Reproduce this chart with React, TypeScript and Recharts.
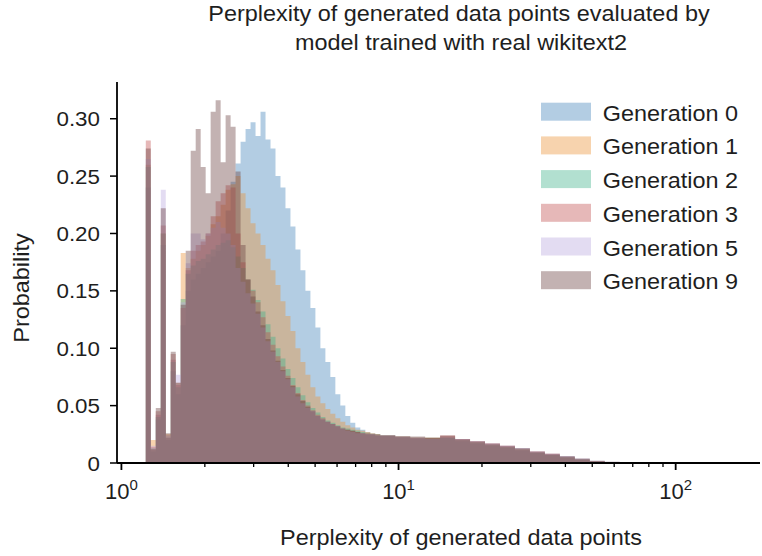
import { Area, ComposedChart, XAxis, YAxis } from "recharts";

// histogram bin left edges, in log10(perplexity); last entry closes the final bin
const binEdgesLog = [
  0.088, 0.106, 0.124, 0.142, 0.16, 0.178, 0.196, 0.214, 0.232, 0.25,
  0.268, 0.286, 0.304, 0.322, 0.34, 0.358, 0.376, 0.394, 0.412, 0.43,
  0.448, 0.466, 0.484, 0.502, 0.52, 0.538, 0.556, 0.574, 0.592, 0.61,
  0.628, 0.646, 0.664, 0.682, 0.7, 0.718, 0.736, 0.754, 0.772, 0.79,
  0.808, 0.826, 0.844, 0.862, 0.88, 0.898, 0.916,
  0.934, 0.988, 1.042, 1.096, 1.15, 1.204, 1.258, 1.312, 1.366, 1.42,
  1.474, 1.528, 1.582, 1.636, 1.69, 1.744, 1.798, 1.852,
];

const gen0 = [
  0.24, 0.01, 0.038, 0.19, 0.02, 0.08, 0.06, 0.12, 0.15, 0.16, 0.165, 0.17, 0.175, 0.18, 0.185, 0.2, 0.22,
  0.245, 0.261, 0.28, 0.291, 0.297, 0.285, 0.306, 0.282, 0.274, 0.25, 0.24, 0.222, 0.206, 0.186,
  0.168, 0.15, 0.135, 0.118, 0.1, 0.088, 0.075, 0.06, 0.05, 0.041, 0.035, 0.031, 0.029, 0.027, 0.026, 0.025,
  0.024, 0.022, 0.021, 0.021, 0.022, 0.019, 0.017, 0.015, 0.013, 0.011, 0.009, 0.007, 0.005, 0.003, 0.0015, 0.0007, 0.0003,
];
const gen1 = [
  0.26, 0.02, 0.045, 0.2, 0.025, 0.095, 0.07, 0.183, 0.17, 0.178, 0.185, 0.19, 0.198, 0.208, 0.215, 0.225, 0.238,
  0.243, 0.25, 0.235, 0.222, 0.209, 0.2, 0.19, 0.178, 0.168, 0.155, 0.141, 0.128, 0.115, 0.1,
  0.088, 0.077, 0.066, 0.058, 0.052, 0.047, 0.043, 0.039, 0.036, 0.033, 0.031, 0.029, 0.028, 0.027, 0.026, 0.025,
  0.024, 0.023, 0.022, 0.022, 0.023, 0.02, 0.018, 0.016, 0.014, 0.012, 0.009, 0.007, 0.005, 0.003, 0.0015, 0.0007, 0.0003,
];
const gen2 = [
  0.258, 0.013, 0.04, 0.2, 0.022, 0.088, 0.066, 0.143, 0.165, 0.172, 0.176, 0.178, 0.182, 0.186, 0.19, 0.192, 0.194,
  0.188, 0.18, 0.17, 0.16, 0.151, 0.142, 0.132, 0.121, 0.11, 0.1, 0.091, 0.082, 0.074, 0.066,
  0.059, 0.053, 0.048, 0.044, 0.04, 0.037, 0.035, 0.033, 0.031, 0.03, 0.029, 0.028, 0.027, 0.026, 0.025, 0.025,
  0.024, 0.023, 0.022, 0.022, 0.022, 0.02, 0.018, 0.016, 0.014, 0.012, 0.009, 0.007, 0.005, 0.003, 0.0015, 0.0007, 0.0003,
];
const gen3 = [
  0.281, 0.014, 0.042, 0.207, 0.022, 0.09, 0.068, 0.135, 0.168, 0.185, 0.19, 0.193, 0.2, 0.215, 0.228, 0.235, 0.242,
  0.24, 0.2, 0.175, 0.16, 0.15, 0.14, 0.127, 0.114, 0.103, 0.093, 0.084, 0.076, 0.068, 0.061,
  0.055, 0.05, 0.046, 0.042, 0.039, 0.036, 0.034, 0.032, 0.03, 0.029, 0.028, 0.027, 0.026, 0.026, 0.025, 0.025,
  0.024, 0.023, 0.022, 0.022, 0.024, 0.021, 0.019, 0.017, 0.015, 0.012, 0.01, 0.008, 0.005, 0.003, 0.0015, 0.0007, 0.0003,
];
const gen5 = [
  0.265, 0.015, 0.045, 0.238, 0.024, 0.095, 0.077, 0.14, 0.174, 0.2, 0.2, 0.195, 0.2, 0.205, 0.21, 0.205, 0.2,
  0.19, 0.17, 0.158, 0.148, 0.139, 0.13, 0.118, 0.106, 0.097, 0.088, 0.08, 0.073, 0.066, 0.058,
  0.052, 0.048, 0.045, 0.041, 0.038, 0.036, 0.034, 0.032, 0.03, 0.028, 0.027, 0.026, 0.026, 0.025, 0.025, 0.024,
  0.024, 0.023, 0.022, 0.021, 0.023, 0.021, 0.019, 0.017, 0.015, 0.013, 0.01, 0.008, 0.006, 0.004, 0.002, 0.001, 0.0004,
];
const gen9 = [
  0.274, 0.012, 0.048, 0.222, 0.026, 0.097, 0.07, 0.138, 0.185, 0.272, 0.291, 0.258, 0.235, 0.306, 0.316, 0.262, 0.303,
  0.293, 0.254, 0.19, 0.16, 0.145, 0.132, 0.12, 0.108, 0.098, 0.089, 0.081, 0.074, 0.067, 0.06,
  0.054, 0.049, 0.045, 0.041, 0.038, 0.036, 0.034, 0.032, 0.03, 0.029, 0.028, 0.027, 0.026, 0.025, 0.025, 0.024,
  0.024, 0.023, 0.023, 0.022, 0.024, 0.021, 0.019, 0.017, 0.015, 0.013, 0.01, 0.008, 0.006, 0.004, 0.002, 0.001, 0.0004,
];

const majorTicks = [1, 10, 100];
const minorTicks = [2, 3, 4, 5, 6, 7, 8, 9, 20, 30, 40, 50, 60, 70, 80, 90];
const yTicks = [0, 0.05, 0.1, 0.15, 0.2, 0.25, 0.3];

const series = [
  { key: "g0", name: "Generation 0", values: gen0, color: "#4182B9" },
  { key: "g1", name: "Generation 1", values: gen1, color: "#EB9134" },
  { key: "g2", name: "Generation 2", values: gen2, color: "#3EB189" },
  { key: "g3", name: "Generation 3", values: gen3, color: "#C04D4D" },
  { key: "g5", name: "Generation 5", values: gen5, color: "#B9A7DE" },
  { key: "g9", name: "Generation 9", values: gen9, color: "#693E3E" },
];

const data = binEdgesLog.map((e, i) => {
  const row: Record<string, number> = { x: Math.pow(10, e) };
  series.forEach((s) => {
    row[s.key] = s.values[i] ?? 0;
  });
  return row;
});

const FONT = '"Liberation Sans", Arial, Helvetica, sans-serif';
const INK = "#1e1e1e";
const ALPHA = 0.4;
const SX = 1.065;

function Txt({ x, y, size = 22, anchor = "start", rotate = 0, children }: any) {
  return (
    <text
      transform={`translate(${x},${y}) rotate(${rotate}) scale(${SX},1)`}
      textAnchor={anchor}
      fontSize={size}
      fontFamily={FONT}
      fill={INK}
    >
      {children}
    </text>
  );
}

function XTick(props: any) {
  const { x, y, payload } = props;
  const v = payload.value;
  if (!majorTicks.includes(v)) {
    return <line x1={x} x2={x} y1={y} y2={y + 4} stroke="#000" strokeWidth={1.3} />;
  }
  const exp = Math.round(Math.log10(v));
  return (
    <g>
      <line x1={x} x2={x} y1={y} y2={y + 7} stroke="#000" strokeWidth={1.8} />
      <text x={x} y={y + 36} textAnchor="middle" fontSize={22} fontFamily={FONT} fill={INK}>
        10
        <tspan dy={-9} fontSize={15}>
          {exp}
        </tspan>
      </text>
    </g>
  );
}

function YTick(props: any) {
  const { x, y, payload } = props;
  const v = payload.value;
  const label = v === 0 ? "0" : v.toFixed(2);
  return (
    <Txt x={x} y={y + 7.5} anchor="end" size={21}>
      {label}
    </Txt>
  );
}

export default function App() {
  return (
    <div style={{ position: "absolute", left: 0, top: 0, width: 762, height: 556, background: "#fff" }}>
      <ComposedChart
        width={762}
        height={556}
        data={data}
        margin={{ top: 82, right: 2, bottom: 53, left: 57 }}
      >
        <XAxis
          dataKey="x"
          type="number"
          scale="log"
          domain={[0.964, 201.5]}
          allowDataOverflow
          ticks={[...majorTicks, ...minorTicks]}
          interval={0}
          tick={<XTick />}
          tickLine={false}
          tickSize={0}
          tickMargin={0}
          height={40}
          axisLine={{ stroke: "#000", strokeWidth: 1.8 }}
        />
        <YAxis
          type="number"
          domain={[0, 0.332]}
          ticks={yTicks}
          interval={0}
          width={60}
          tickSize={7}
          tickMargin={10}
          tick={<YTick />}
          tickLine={{ stroke: "#000", strokeWidth: 1.5 }}
          axisLine={{ stroke: "#000", strokeWidth: 1.8 }}
        />
        {series.map((s) => (
          <Area
            key={s.key}
            dataKey={s.key}
            name={s.name}
            type="stepAfter"
            fill={s.color}
            fillOpacity={ALPHA}
            stroke="none"
            isAnimationActive={false}
            dot={false}
            activeDot={false}
          />
        ))}
      </ComposedChart>
      <svg
        width={762}
        height={556}
        style={{ position: "absolute", left: 0, top: 0, pointerEvents: "none" }}
      >
        <Txt x={459} y={21} anchor="middle" size={22}>
          Perplexity of generated data points evaluated by
        </Txt>
        <Txt x={461} y={50} anchor="middle" size={22}>
          model trained with real wikitext2
        </Txt>
        <Txt x={461} y={545} anchor="middle" size={22}>
          Perplexity of generated data points
        </Txt>
        <Txt x={28.5} y={288} anchor="middle" size={22} rotate={-90}>
          Probability
        </Txt>
        {series.map((s, i) => (
          <g key={s.key}>
            <rect x={541} y={102.7 + 33.7 * i} width={50} height={18} fill={s.color} fillOpacity={ALPHA} />
            <Txt x={602.7} y={120.7 + 33.7 * i} size={22}>
              {s.name}
            </Txt>
          </g>
        ))}
      </svg>
    </div>
  );
}
